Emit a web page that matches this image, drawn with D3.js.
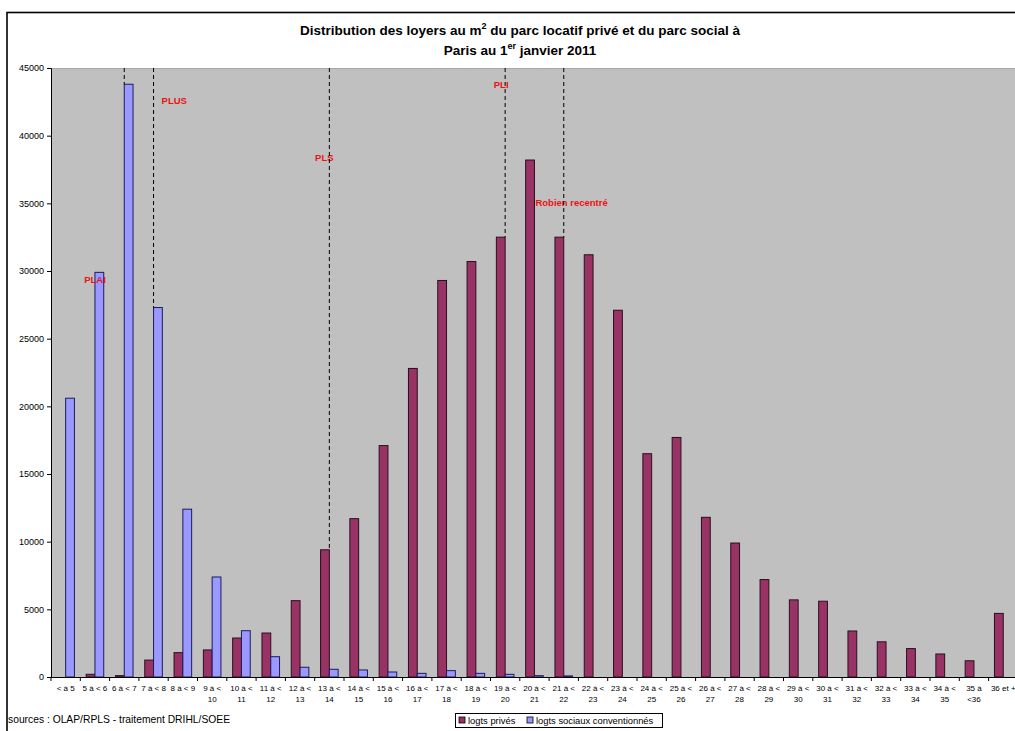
<!DOCTYPE html>
<html>
<head>
<meta charset="utf-8">
<script src="https://cdn.jsdelivr.net/npm/d3@7"></script>
<style>
html,body{margin:0;padding:0;background:#fff;overflow:hidden;}
svg{display:block;}
text{font-family:"Liberation Sans",Arial,sans-serif;}
</style>
</head>
<body>
<svg id="c" width="1015" height="731"></svg>
<script>
// ---- data ----
const categories = ["< à 5","5 à < 6","6 à < 7","7 à < 8","8 à < 9","9 à < 10","10 à < 11","11 à < 12","12 à < 13","13 à < 14","14 à < 15","15 à < 16","16 à < 17","17 à < 18","18 à < 19","19 à < 20","20 à < 21","21 à < 22","22 à < 23","23 à < 24","24 à < 25","25 à < 26","26 à < 27","27 à < 28","28 à < 29","29 à < 30","30 à < 31","31 à < 32","32 à < 33","33 à < 34","34 à < 35","35 à <36","36 et +"];
const labelLine1 = ["< à 5","5 à < 6","6 à < 7","7 à < 8","8 à < 9","9 à <","10 à <","11 à <","12 à <","13 à <","14 à <","15 à <","16 à <","17 à <","18 à <","19 à <","20 à <","21 à <","22 à <","23 à <","24 à <","25 à <","26 à <","27 à <","28 à <","29 à <","30 à <","31 à <","32 à <","33 à <","34 à <","35 à","36 et +"];
const labelLine2 = ["","","","","","10","11","12","13","14","15","16","17","18","19","20","21","22","23","24","25","26","27","28","29","30","31","32","33","34","35","<36",""];
const prives  = [0,200,100,1250,1800,2000,2880,3250,5640,9400,11700,17100,22800,29300,30700,32500,38200,32500,31200,27100,16500,17700,11800,9900,7200,5700,5600,3400,2600,2100,1700,1200,4700];
const sociaux = [20600,29900,43800,27300,12400,7390,3420,1500,720,570,520,370,270,470,270,200,100,80,0,0,0,0,0,0,0,0,0,0,0,0,0,0,0];
const seriesNames = ["logts privés","logts sociaux conventionnés"];
const yTicks = [0,5000,10000,15000,20000,25000,30000,35000,40000,45000];
const thresholdCats = ["6 à < 7","7 à < 8","13 à < 14","19 à < 20","21 à < 22"];
const annotations = [
  {text:"PLAI", cat:"5 à < 6", value:29300},
  {text:"PLUS", cat:"7 à < 8", value:42500},
  {text:"PLS", cat:"13 à < 14", value:38300},
  {text:"PLI", cat:"19 à < 20", value:43700},
  {text:"Robien recentré", cat:"20 à < 21", value:35000}
];
const annDx = [0, 8, -5, -4, 1];
const annAnchor = ["middle","start","middle","middle","start"];

// ---- layout ----
const svg = d3.select("#c");
const pLeft = 51, pTop = 68, pBottom = 677;
const catW = 29.3;
const pRight = pLeft + catW*categories.length;

const x = d3.scaleBand().domain(categories).range([pLeft, pRight]).padding(0);
const inner = d3.scaleBand().domain(seriesNames).range([x.bandwidth()*0.2, x.bandwidth()*0.8]).padding(0);
const y = d3.scaleLinear().domain([0,45000]).range([pBottom, pTop]);

// outer frame
svg.append("rect").attr("x",7).attr("y",12.5).attr("width",1100).attr("height",800)
  .attr("fill","#fff").attr("stroke","#000").attr("stroke-width",1.6);

// plot bg
svg.append("rect").attr("x",pLeft).attr("y",pTop).attr("width",pRight-pLeft).attr("height",pBottom-pTop)
  .attr("fill","#C0C0C0");
svg.append("line").attr("x1",pLeft).attr("x2",pRight).attr("y1",pTop+0.5).attr("y2",pTop+0.5)
  .attr("stroke","#a8a8a8");

const colors = {"logts privés":"#993366","logts sociaux conventionnés":"#9999FF"};
const strokes = {"logts privés":"#2a0f1c","logts sociaux conventionnés":"#1c1c5a"};

// bars
const seriesData = [prives, sociaux];
seriesNames.forEach((s,si)=>{
  svg.append("g").selectAll("rect").data(categories).join("rect")
    .attr("x",(c)=>x(c)+inner(s))
    .attr("y",(c,i)=>y(seriesData[si][i]))
    .attr("width",inner.bandwidth())
    .attr("height",(c,i)=>pBottom-y(seriesData[si][i]))
    .attr("fill",colors[s]).attr("stroke",strokes[s]).attr("stroke-width",1)
    .attr("display",(c,i)=>seriesData[si][i]>0?null:"none");
});

// annotations text
svg.append("g").selectAll("text").data(annotations).join("text")
  .attr("x",(d,i)=>x(d.cat)+x.bandwidth()/2+annDx[i])
  .attr("y",d=>y(d.value))
  .attr("text-anchor",(d,i)=>annAnchor[i])
  .attr("dominant-baseline","middle")
  .attr("font-size","9.5px").attr("font-weight","bold").attr("fill","#ee1111")
  .text(d=>d.text);

// dashed threshold lines
svg.append("g").selectAll("line").data(thresholdCats).join("line")
  .attr("x1",d=>x(d)+x.bandwidth()/2).attr("x2",d=>x(d)+x.bandwidth()/2)
  .attr("y1",pTop).attr("y2",(d)=>y(Math.max(prives[categories.indexOf(d)],sociaux[categories.indexOf(d)])))
  .attr("stroke","#000").attr("stroke-width",1).attr("stroke-dasharray","4,3");

// y axis
const yAxis = d3.axisLeft(y).tickValues(yTicks).tickSize(4).tickPadding(3).tickFormat(d3.format("d"));
const yg = svg.append("g").attr("transform",`translate(${pLeft},0)`).call(yAxis);
yg.select(".domain").attr("stroke","#000");
yg.selectAll("text").attr("font-size","9px").attr("font-family","Liberation Sans, Arial").attr("fill","#000");

// x axis
const tickPos = categories.map(c=>x(c)).concat([pRight]);
const xg = svg.append("g");
xg.append("line").attr("x1",pLeft).attr("x2",pRight).attr("y1",pBottom+0.5).attr("y2",pBottom+0.5).attr("stroke","#000");
xg.selectAll("line.t").data(tickPos).join("line").attr("class","t")
  .attr("x1",d=>d).attr("x2",d=>d).attr("y1",pBottom).attr("y2",pBottom+4).attr("stroke","#000");
const xl = xg.selectAll("text.l").data(categories).join("text").attr("class","l")
  .attr("x",c=>x(c)+x.bandwidth()/2).attr("text-anchor","middle").attr("font-size","8px").attr("fill","#000");
xl.append("tspan").attr("x",c=>x(c)+x.bandwidth()/2).attr("y",691).text((c,i)=>labelLine1[i]);
xl.append("tspan").attr("x",c=>x(c)+x.bandwidth()/2).attr("y",702).text((c,i)=>labelLine2[i]);

// title
const t1 = svg.append("text").attr("x",520).attr("y",35).attr("text-anchor","middle")
  .attr("font-size","13.5px").attr("font-weight","bold").attr("fill","#000");
t1.append("tspan").text("Distribution des loyers au m");
t1.append("tspan").attr("font-size","9px").attr("dy",-6).text("2");
t1.append("tspan").attr("dy",6).text(" du parc locatif privé et du parc social à");
const t2 = svg.append("text").attr("x",520).attr("y",55).attr("text-anchor","middle")
  .attr("font-size","13.5px").attr("font-weight","bold").attr("fill","#000");
t2.append("tspan").text("Paris au 1");
t2.append("tspan").attr("font-size","9px").attr("dy",-6).text("er");
t2.append("tspan").attr("dy",6).text(" janvier 2011");

// source
svg.append("text").attr("x",8).attr("y",723).attr("font-size","10.3px").attr("fill","#000")
  .text("sources : OLAP/RPLS - traitement DRIHL/SOEE");

// legend
const lg = svg.append("g").attr("transform","translate(455,713)");
lg.append("rect").attr("x",0.5).attr("y",0.5).attr("width",207).attr("height",14).attr("fill","#fff").attr("stroke","#000");
const legX = [4, 72];
seriesNames.forEach((s,i)=>{
  lg.append("rect").attr("x",legX[i]).attr("y",4).attr("width",6).attr("height",6)
    .attr("fill",colors[s]).attr("stroke","#000").attr("stroke-width",0.8);
  lg.append("text").attr("x",legX[i]+9).attr("y",11).attr("font-size","9.4px").attr("fill","#000").text(s);
});
</script>
</body>
</html>
